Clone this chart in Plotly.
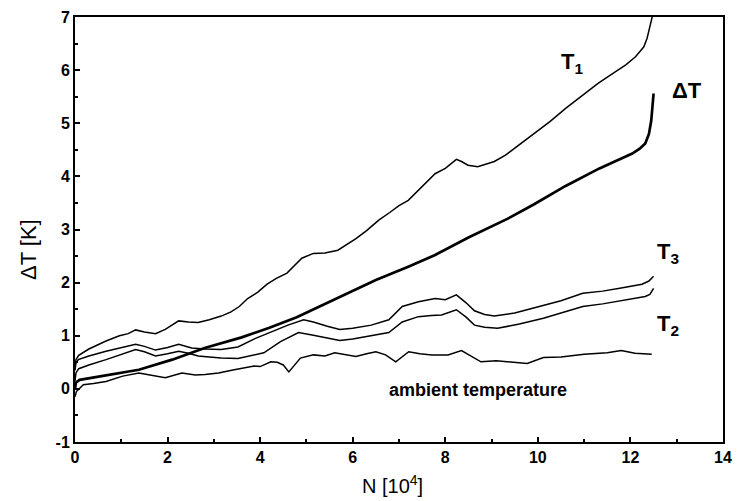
import plotly.graph_objects as go

# ---- data (N in 10^4 cycles, temperatures in K) ----
t1_x = [0, 0.02, 0.08, 0.3, 0.67, 0.96, 1.15, 1.31, 1.5, 1.74, 1.95, 2.24, 2.45, 2.66, 2.9, 3.16, 3.37, 3.55,
        3.73, 3.95, 4.15, 4.35, 4.58, 4.75, 4.90, 5.15, 5.4, 5.68, 5.85, 6.07, 6.3, 6.57, 6.8, 7.0, 7.2, 7.4,
        7.6, 7.78, 8.0, 8.24, 8.35, 8.49, 8.70, 9.06, 9.3, 9.55, 9.9, 10.26, 10.6, 10.97, 11.3, 11.68, 11.9,
        12.11, 12.29, 12.36, 12.42, 12.47, 12.5]
t1_y = [0.42, 0.55, 0.63, 0.75, 0.90, 1.00, 1.04, 1.11, 1.07, 1.04, 1.12, 1.28, 1.26, 1.25, 1.30, 1.37, 1.45, 1.55,
        1.70, 1.82, 1.97, 2.08, 2.18, 2.32, 2.46, 2.55, 2.56, 2.61, 2.70, 2.83, 2.98, 3.18, 3.32, 3.45, 3.55, 3.72,
        3.90, 4.05, 4.15, 4.32, 4.28, 4.21, 4.18, 4.28, 4.40, 4.56, 4.80, 5.03, 5.28, 5.53, 5.75, 5.97, 6.10,
        6.25, 6.44, 6.6, 6.8, 7.0, 7.3]

dt_x = [0, 0.02, 0.1, 0.67, 1.38, 2.1, 2.8, 3.6, 4.2, 4.79, 5.3, 5.86, 6.5, 7.2, 7.78, 8.5, 9.34, 9.91, 10.6,
        11.33, 12.04, 12.2, 12.32, 12.4, 12.45, 12.5]
dt_y = [0.0, 0.12, 0.17, 0.25, 0.36, 0.55, 0.77, 0.97, 1.15, 1.35, 1.56, 1.8, 2.05, 2.3, 2.52, 2.85, 3.2, 3.47, 3.82,
        4.15, 4.43, 4.52, 4.62, 4.8, 5.05, 5.56]

t3_x = [0, 0.02, 0.07, 0.3, 0.67, 1.0, 1.31, 1.5, 1.74, 2.0, 2.24, 2.52, 2.8, 3.16, 3.52, 3.9, 4.3, 4.6, 4.94,
        5.15, 5.45, 5.72, 6.0, 6.4, 6.78, 7.07, 7.42, 7.78, 8.0, 8.24, 8.45, 8.63, 8.85, 9.06, 9.5, 9.91, 10.5,
        10.97, 11.4, 11.8, 12.25, 12.4, 12.5]
t3_y = [0.35, 0.48, 0.55, 0.62, 0.71, 0.77, 0.84, 0.80, 0.73, 0.78, 0.84, 0.77, 0.75, 0.74, 0.79, 0.95, 1.1, 1.2,
        1.30, 1.26, 1.18, 1.12, 1.14, 1.20, 1.30, 1.55, 1.64, 1.70, 1.68, 1.77, 1.62, 1.47, 1.40, 1.37, 1.43, 1.52,
        1.66, 1.80, 1.84, 1.90, 1.97, 2.03, 2.12]

t2_x = [0, 0.02, 0.08, 0.3, 0.67, 1.0, 1.31, 1.5, 1.74, 2.0, 2.24, 2.45, 2.66, 2.9, 3.16, 3.52, 3.8, 4.08, 4.44,
        4.83, 5.15, 5.45, 5.72, 6.0, 6.4, 6.78, 7.07, 7.42, 7.7, 7.92, 8.24, 8.45, 8.63, 8.85, 9.13, 9.6, 10.12,
        10.5, 10.97, 11.4, 11.9, 12.32, 12.42, 12.5]
t2_y = [0.15, 0.30, 0.38, 0.45, 0.55, 0.65, 0.74, 0.70, 0.62, 0.66, 0.71, 0.67, 0.62, 0.60, 0.58, 0.57, 0.62, 0.68,
        0.89, 1.06, 1.01, 0.95, 0.91, 0.94, 1.00, 1.06, 1.26, 1.36, 1.38, 1.39, 1.49, 1.35, 1.20, 1.16, 1.14, 1.22,
        1.33, 1.43, 1.55, 1.60, 1.67, 1.74, 1.78, 1.89]

amb_x = [0, 0.03, 0.18, 0.4, 0.67, 1.03, 1.38, 1.6, 1.95, 2.31, 2.6, 2.81, 3.1, 3.44, 3.87, 4.0, 4.23, 4.37, 4.5,
         4.62, 4.75, 4.87, 5.15, 5.4, 5.61, 6.07, 6.3, 6.5, 6.71, 6.93, 7.21, 7.45, 7.71, 8.06, 8.35, 8.55, 8.77,
         9.1, 9.41, 9.77, 10.12, 10.5, 11.0, 11.5, 11.8, 12.1, 12.46]
amb_y = [-0.15, -0.05, 0.08, 0.10, 0.14, 0.24, 0.30, 0.27, 0.21, 0.30, 0.26, 0.27, 0.30, 0.36, 0.43, 0.42, 0.51,
         0.50, 0.45, 0.32, 0.45, 0.58, 0.64, 0.62, 0.68, 0.61, 0.66, 0.70, 0.64, 0.51, 0.70, 0.66, 0.64, 0.64, 0.72,
         0.62, 0.51, 0.53, 0.51, 0.48, 0.59, 0.60, 0.65, 0.68, 0.72, 0.67, 0.65]

x_ticks = [0, 2, 4, 6, 8, 10, 12, 14]
y_ticks = [-1, 0, 1, 2, 3, 4, 5, 6, 7]

FONT = "Liberation Sans, Arial, sans-serif"

fig = go.Figure()
for xs, ys, name, w in [(t1_x, t1_y, "T1", 1.5), (t3_x, t3_y, "T3", 1.5), (t2_x, t2_y, "T2", 1.5),
                        (amb_x, amb_y, "ambient", 1.5), (dt_x, dt_y, "dT", 2.7)]:
    fig.add_trace(go.Scatter(x=xs, y=ys, mode="lines", name=name,
                             line=dict(color="black", width=w), showlegend=False, hoverinfo="skip"))

lab = dict(family=FONT, size=22, color="black")
ann = [
    dict(x=10.45, y=6.13, text="<b>T<sub>1</sub></b>"),
    dict(x=12.85, y=5.61, text="<b>ΔT</b>"),
    dict(x=12.53, y=2.55, text="<b>T<sub>3</sub></b>"),
    dict(x=12.53, y=1.20, text="<b>T<sub>2</sub></b>"),
]
for a in ann:
    fig.add_annotation(x=a["x"], y=a["y"], text=a["text"], showarrow=False, xanchor="left", yanchor="middle",
                       font=lab)
fig.add_annotation(x=6.75, y=-0.02, text="<b>ambient temperature</b>", showarrow=False, xanchor="left",
                   yanchor="middle", font=dict(family=FONT, size=18, color="black"))

# axis titles
fig.add_annotation(xref="paper", yref="paper", x=0.49, y=-0.135, text="N [10<sup>4</sup>]", showarrow=False,
                   xanchor="center", yanchor="bottom", font=dict(family=FONT, size=20, color="black"))
fig.add_annotation(xref="paper", yref="paper", x=-0.0708, y=0.452, text="ΔT [K]", showarrow=False, textangle=-90,
                   xanchor="center", yanchor="middle", font=dict(family=FONT, size=22, color="black"))

axis_common = dict(showline=True, linecolor="black", linewidth=2, mirror=True, ticks="inside",
                   tickcolor="black", tickwidth=1.5, ticklen=5, showgrid=False, zeroline=False,
                   tickfont=dict(family=FONT, size=16, color="black"))

fig.update_layout(
    width=741, height=501,
    margin=dict(l=75, r=9, t=17, b=59),
    paper_bgcolor="white", plot_bgcolor="white",
    xaxis=dict(range=[0, 14], tickvals=x_ticks, ticktext=[f"<b>{v}</b>" for v in x_ticks],
               minor=dict(dtick=1, ticks="inside", ticklen=3, tickcolor="black", tickwidth=1.5),
               **axis_common),
    yaxis=dict(range=[-1, 7], tickvals=y_ticks, ticktext=[f"<b>{v}</b>" for v in y_ticks],
               minor=dict(dtick=0.5, ticks="inside", ticklen=3, tickcolor="black", tickwidth=1.5),
               **axis_common),
)

fig.write_html("out.html")
